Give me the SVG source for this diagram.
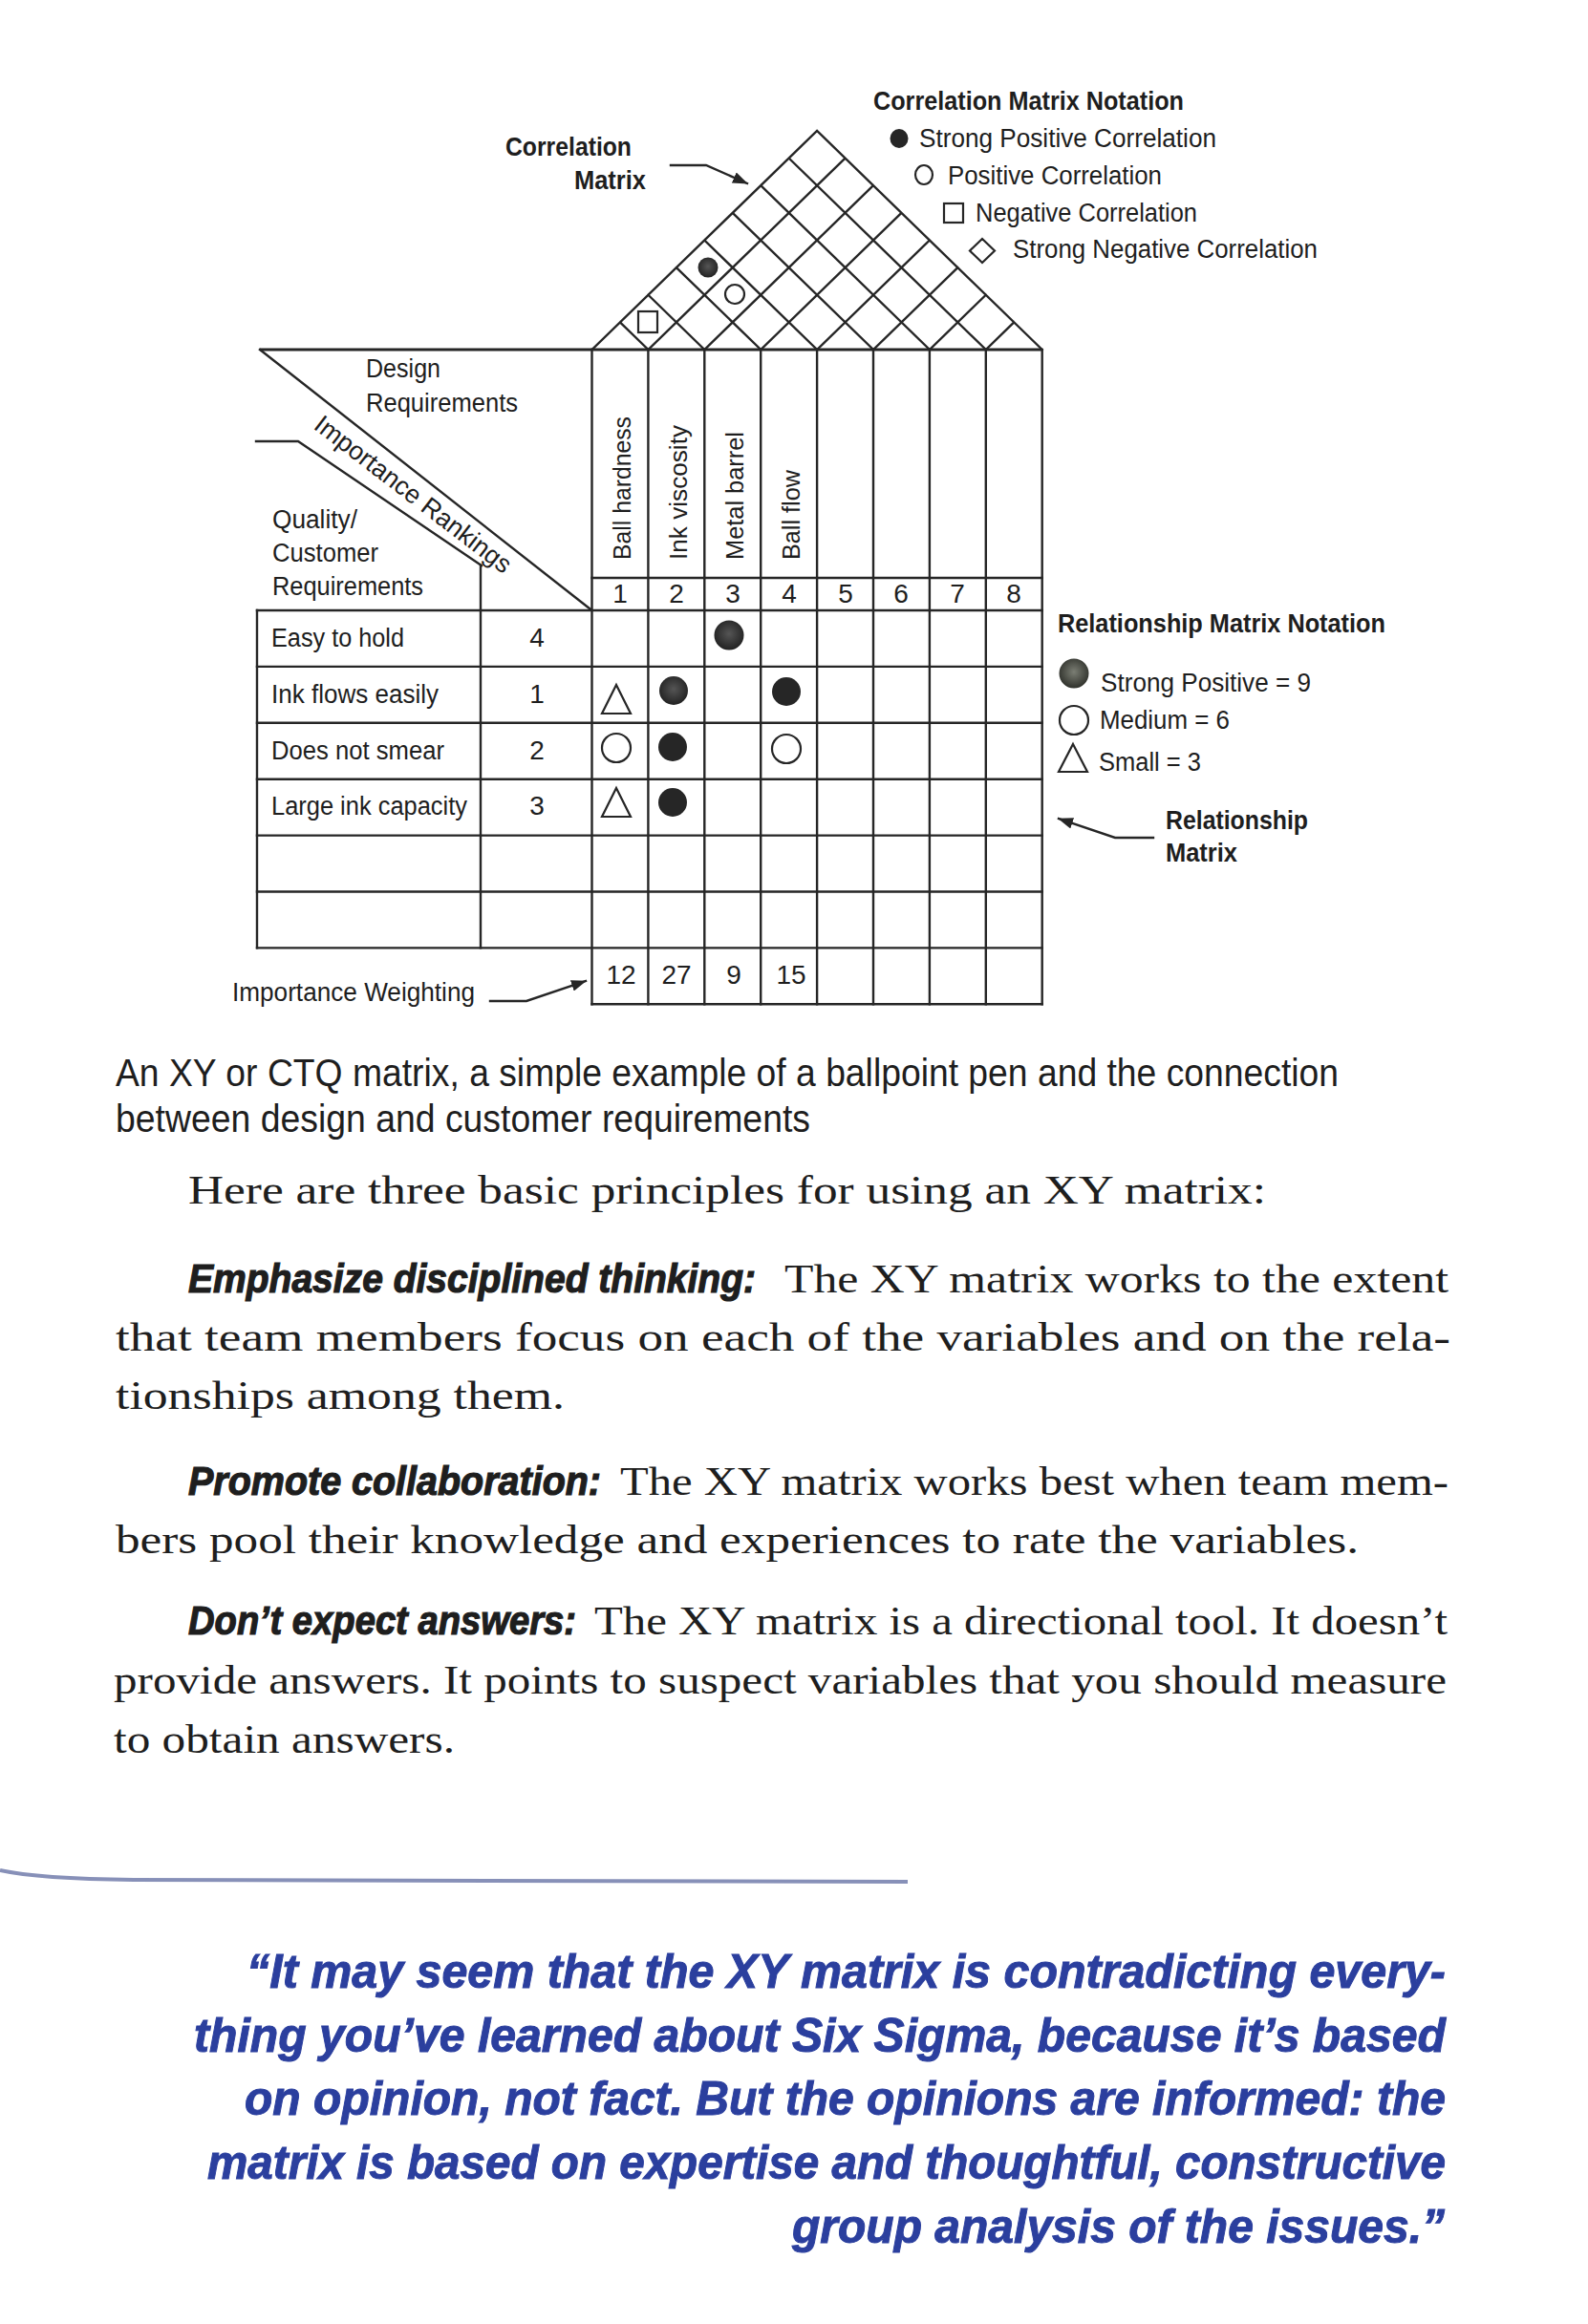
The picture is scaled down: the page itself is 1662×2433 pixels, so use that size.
<svg xmlns="http://www.w3.org/2000/svg" width="1662" height="2433" viewBox="0 0 1662 2433">
<style>
.ln{stroke:#262626;stroke-width:2.4;fill:none;stroke-linecap:square}
.thk{stroke:#262626;stroke-width:3;fill:none}
.t{font-family:"Liberation Sans Narrow","Liberation Sans",Arial,sans-serif;font-size:27px;fill:#1e1e1e}
.b{font-weight:bold}
.rot{font-family:"Liberation Sans",Arial,sans-serif;font-size:26px;fill:#1e1e1e}
.num{font-family:"Liberation Sans Narrow","Liberation Sans",Arial,sans-serif;font-size:28px;fill:#1e1e1e;text-anchor:middle}
.cap{font-family:"Liberation Sans Narrow","Liberation Sans",Arial,sans-serif;font-size:41px;fill:#1e1e1e}
.sr{font-family:"Liberation Serif","Times New Roman",serif;font-size:42px;fill:#1e1e1e}
.bi{font-family:"Liberation Sans Narrow","Liberation Sans",Arial,sans-serif;font-size:39px;font-weight:bold;font-style:italic;fill:#1e1e1e;stroke:#1e1e1e;stroke-width:1.1}
.q{font-family:"Liberation Sans Narrow","Liberation Sans",Arial,sans-serif;font-size:50px;font-weight:bold;font-style:italic;fill:#2b3f9e;stroke:#2b3f9e;stroke-width:1}
.fc{fill:#262626}
.oc{fill:#fff;stroke:#262626;stroke-width:2.2}
</style>
<defs>
<marker id="ah" viewBox="0 0 16 12" refX="15" refY="6" markerWidth="16" markerHeight="12" markerUnits="userSpaceOnUse" orient="auto">
<path d="M0,0 L16,6 L0,12 Z" fill="#262626"/>
</marker>
<radialGradient id="gs" cx="50%" cy="45%" r="55%">
<stop offset="0" stop-color="#7b7e74"/>
<stop offset="1" stop-color="#30322c"/>
</radialGradient>
<radialGradient id="gd" cx="50%" cy="45%" r="55%">
<stop offset="0" stop-color="#555"/>
<stop offset="1" stop-color="#222"/>
</radialGradient>
</defs>
<rect width="1662" height="2433" fill="#fff"/>

<g id="correlation-roof">
<path class="ln" d="M619.5,366 L855.1,137 L1090.7,366
M678.4,366 L884.55,165.6 M737.3,366 L914,194.2 M796.2,366 L943.45,222.9 M855.1,366 L972.9,251.5 M914,366 L1002.35,280.1 M972.9,366 L1031.8,308.75 M1031.8,366 L1061.25,337.4
M678.4,366 L648.95,337.4 M737.3,366 L678.4,308.75 M796.2,366 L707.85,280.1 M855.1,366 L737.3,251.5 M914,366 L766.75,222.9 M972.9,366 L796.2,194.2 M1031.8,366 L825.65,165.6"/>
<rect x="668" y="326" width="20" height="22" class="oc"/>
<circle cx="741" cy="280" r="10.5" fill="url(#gd)"/>
<circle cx="769" cy="308" r="10" class="oc"/>
</g>

<g id="correlation-label">
<text class="t b" x="529" y="163" textLength="132" lengthAdjust="spacingAndGlyphs">Correlation</text>
<text class="t b" x="601" y="198" textLength="75" lengthAdjust="spacingAndGlyphs">Matrix</text>
</g>

<g id="correlation-notation">
<text class="t b" x="914" y="115" textLength="325" lengthAdjust="spacingAndGlyphs">Correlation Matrix Notation</text>
<ellipse cx="941" cy="145" rx="9.5" ry="10" class="fc"/>
<text class="t" x="962" y="154" textLength="311" lengthAdjust="spacingAndGlyphs">Strong Positive Correlation</text>
<ellipse cx="967" cy="183" rx="9" ry="10" class="oc"/>
<text class="t" x="992" y="193" textLength="224" lengthAdjust="spacingAndGlyphs">Positive Correlation</text>
<rect x="988" y="213" width="20" height="20" class="oc"/>
<text class="t" x="1021" y="232" textLength="232" lengthAdjust="spacingAndGlyphs">Negative Correlation</text>
<path d="M1028,250 L1041,262.5 L1028,275 L1015,262.5 Z" class="oc"/>
<text class="t" x="1060" y="270" textLength="319" lengthAdjust="spacingAndGlyphs">Strong Negative Correlation</text>
</g>

<g id="header-corner">
<path class="thk" d="M272,366 L1090.7,366"/>
<path class="ln" d="M272,366 L619.5,639"/>
<path class="ln" d="M268,462 L312,462 L504,592"/>
<text class="t" x="383" y="395" textLength="78" lengthAdjust="spacingAndGlyphs">Design</text>
<text class="t" x="383" y="431" textLength="159" lengthAdjust="spacingAndGlyphs">Requirements</text>
<text class="t" transform="translate(327,448) rotate(37.5)" textLength="252" lengthAdjust="spacingAndGlyphs">Importance Rankings</text>
<text class="t" x="285" y="553" textLength="89" lengthAdjust="spacingAndGlyphs">Quality/</text>
<text class="t" x="285" y="588" textLength="111" lengthAdjust="spacingAndGlyphs">Customer</text>
<text class="t" x="285" y="623" textLength="158" lengthAdjust="spacingAndGlyphs">Requirements</text>
</g>

<g id="design-requirements">
<text class="rot" transform="translate(660,586) rotate(-90)" textLength="150" lengthAdjust="spacingAndGlyphs">Ball hardness</text>
<text class="rot" transform="translate(718.5,586) rotate(-90)" textLength="141" lengthAdjust="spacingAndGlyphs">Ink viscosity</text>
<text class="rot" transform="translate(777.5,586) rotate(-90)" textLength="134" lengthAdjust="spacingAndGlyphs">Metal barrel</text>
<text class="rot" transform="translate(836.5,586) rotate(-90)" textLength="94" lengthAdjust="spacingAndGlyphs">Ball flow</text>
<text class="num" x="649" y="631">1</text>
<text class="num" x="708" y="631">2</text>
<text class="num" x="767" y="631">3</text>
<text class="num" x="826" y="631">4</text>
<text class="num" x="885" y="631">5</text>
<text class="num" x="943" y="631">6</text>
<text class="num" x="1002" y="631">7</text>
<text class="num" x="1061" y="631">8</text>
</g>

<g id="grid">
<path class="ln" d="M619.5,366 V1051.3 M678.4,366 V1051.3 M737.3,366 V1051.3 M796.2,366 V1051.3 M855.1,366 V1051.3 M914,366 V1051.3 M972.9,366 V1051.3 M1031.8,366 V1051.3 M1090.7,366 V1051.3"/>
<path class="ln" d="M619.5,605 H1090.7 M269,639 H1090.7 M269,697.9 H1090.7 M269,756.8 H1090.7 M269,815.7 H1090.7 M269,874.6 H1090.7 M269,933.5 H1090.7 M269,992.4 H1090.7 M619.5,1051.3 H1090.7"/>
<path class="ln" d="M269,639 V992.4 M503,592 V992.4"/>
</g>

<g id="customer-requirements">
<text class="t" x="284" y="677" textLength="139" lengthAdjust="spacingAndGlyphs">Easy to hold</text>
<text class="t" x="284" y="736" textLength="175" lengthAdjust="spacingAndGlyphs">Ink flows easily</text>
<text class="t" x="284" y="795" textLength="181" lengthAdjust="spacingAndGlyphs">Does not smear</text>
<text class="t" x="284" y="853" textLength="205" lengthAdjust="spacingAndGlyphs">Large ink capacity</text>
<text class="num" x="562" y="677">4</text>
<text class="num" x="562" y="736">1</text>
<text class="num" x="562" y="795">2</text>
<text class="num" x="562" y="853">3</text>
</g>

<g id="relationships">
<circle cx="763" cy="665" r="15.5" fill="url(#gd)"/>
<path d="M645,717 L660,747 L630,747 Z" class="oc"/>
<circle cx="705" cy="723" r="15" fill="url(#gd)"/>
<circle cx="823" cy="724" r="15" class="fc"/>
<circle cx="645" cy="783" r="15" class="oc"/>
<circle cx="704" cy="782" r="15" class="fc"/>
<circle cx="823" cy="784" r="15" class="oc"/>
<path d="M645,825 L660,855 L630,855 Z" class="oc"/>
<circle cx="704" cy="840" r="15" class="fc"/>
</g>

<g id="importance-weighting">
<text class="num" x="650" y="1030">12</text>
<text class="num" x="708" y="1030">27</text>
<text class="num" x="768" y="1030">9</text>
<text class="num" x="828" y="1030">15</text>
<text class="t" x="243" y="1048" textLength="254" lengthAdjust="spacingAndGlyphs">Importance Weighting</text>
</g>

<g id="relationship-notation">
<text class="t b" x="1107" y="662" textLength="343" lengthAdjust="spacingAndGlyphs">Relationship Matrix Notation</text>
<circle cx="1124" cy="705" r="15.5" fill="url(#gs)"/>
<text class="t" x="1152" y="724" textLength="220" lengthAdjust="spacingAndGlyphs">Strong Positive = 9</text>
<circle cx="1124" cy="754" r="15" class="oc"/>
<text class="t" x="1151" y="763" textLength="136" lengthAdjust="spacingAndGlyphs">Medium = 6</text>
<path d="M1123,779 L1138,808 L1108,808 Z" class="oc"/>
<text class="t" x="1150" y="807" textLength="107" lengthAdjust="spacingAndGlyphs">Small = 3</text>
<text class="t b" x="1220" y="868" textLength="149" lengthAdjust="spacingAndGlyphs">Relationship</text>
<text class="t b" x="1220" y="902" textLength="75" lengthAdjust="spacingAndGlyphs">Matrix</text>
</g>

<g id="connectors">
<path class="ln" d="M702,173 L739,173 L782,192" marker-end="url(#ah)"/>
<path class="ln" d="M1207,877 L1167,877 L1108,857" marker-end="url(#ah)"/>
<path class="ln" d="M513,1048 L551,1048 L613,1027" marker-end="url(#ah)"/>
</g>

<g id="caption">
<text class="cap" x="121" y="1137" textLength="1280" lengthAdjust="spacingAndGlyphs">An XY or CTQ matrix, a simple example of a ballpoint pen and the connection</text>
<text class="cap" x="121" y="1185" textLength="727" lengthAdjust="spacingAndGlyphs">between design and customer requirements</text>
</g>

<g id="body-text">
<text class="sr" x="197" y="1260" textLength="1128" lengthAdjust="spacingAndGlyphs">Here are three basic principles for using an XY matrix:</text>
<text class="bi" transform="translate(197,1353) scale(1,1.1)" x="0" y="0" textLength="594" lengthAdjust="spacingAndGlyphs">Emphasize disciplined thinking:</text>
<text class="sr" x="821" y="1353" textLength="695" lengthAdjust="spacingAndGlyphs">The XY matrix works to the extent</text>
<text class="sr" x="121" y="1414" textLength="1397" lengthAdjust="spacingAndGlyphs">that team members focus on each of the variables and on the rela-</text>
<text class="sr" x="121" y="1475" textLength="470" lengthAdjust="spacingAndGlyphs">tionships among them.</text>
<text class="bi" transform="translate(197,1565) scale(1,1.1)" x="0" y="0" textLength="432" lengthAdjust="spacingAndGlyphs">Promote collaboration:</text>
<text class="sr" x="649" y="1565" textLength="867" lengthAdjust="spacingAndGlyphs">The XY matrix works best when team mem-</text>
<text class="sr" x="121" y="1626" textLength="1301" lengthAdjust="spacingAndGlyphs">bers pool their knowledge and experiences to rate the variables.</text>
<text class="bi" transform="translate(197,1711) scale(1,1.1)" x="0" y="0" textLength="406" lengthAdjust="spacingAndGlyphs">Don’t expect answers:</text>
<text class="sr" x="622" y="1711" textLength="893" lengthAdjust="spacingAndGlyphs">The XY matrix is a directional tool. It doesn’t</text>
<text class="sr" x="119" y="1773" textLength="1395" lengthAdjust="spacingAndGlyphs">provide answers. It points to suspect variables that you should measure</text>
<text class="sr" x="119" y="1835" textLength="357" lengthAdjust="spacingAndGlyphs">to obtain answers.</text>
</g>

<g id="rule">
<path d="M0,1958 Q40,1967 140,1968 L950,1970" stroke="#8790b8" stroke-width="4" fill="none"/>
</g>

<g id="pull-quote">
<text class="q" x="258" y="2081" textLength="1255" lengthAdjust="spacingAndGlyphs">“It may seem that the XY matrix is contradicting every-</text>
<text class="q" x="203" y="2148" textLength="1310" lengthAdjust="spacingAndGlyphs">thing you’ve learned about Six Sigma, because it’s based</text>
<text class="q" x="256" y="2214" textLength="1257" lengthAdjust="spacingAndGlyphs">on opinion, not fact. But the opinions are informed: the</text>
<text class="q" x="217" y="2281" textLength="1296" lengthAdjust="spacingAndGlyphs">matrix is based on expertise and thoughtful, constructive</text>
<text class="q" x="829" y="2348" textLength="683" lengthAdjust="spacingAndGlyphs">group analysis of the issues.”</text>
</g>
</svg>
